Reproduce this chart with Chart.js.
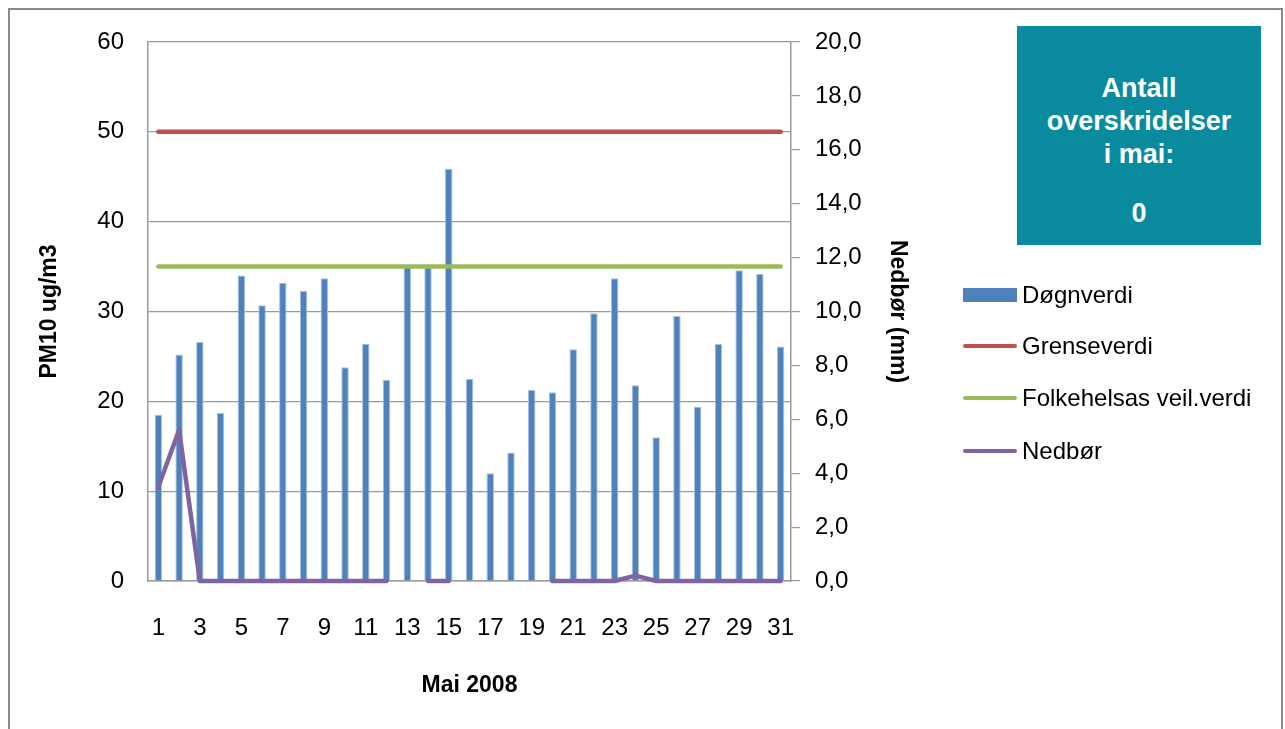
<!DOCTYPE html>
<html lang="no">
<head>
    <meta charset="UTF-8">
    <title>PM10 mai 2008</title>
    <script src="https://cdn.jsdelivr.net/npm/chart.js"></script>
    <style>
        body {
            margin: 0;
            background: #fff;
            font-family: 'Liberation Sans', Arial, sans-serif;
            overflow: hidden;
        }

        /* Grey frame around the whole chart */
        .frame {
            position: absolute;
            left: 8px;
            top: 8px;
            width: 1271px;
            height: 760px;
            border: 2px solid #8a8a8a;
        }

        #chartCanvas {
            position: absolute;
            left: 0;
            top: 0;
        }

        /* Info box, top right */
        .info-box {
            position: absolute;
            left: 1017px;
            top: 26px;
            width: 244px;
            height: 219px;
            background: #0a8a9e;
            color: #fff;
            font-weight: bold;
            font-size: 27px;
            line-height: 33px;
            text-align: center;
            padding-top: 46px;
            box-sizing: border-box;
        }

        .info-box .count {
            margin-top: 26px;
        }

        /* Legend */
        .legend {
            position: absolute;
            left: 963px;
            top: 0;
            font-size: 24px;
            color: #000;
        }

        .legend-item {
            position: absolute;
            left: 0;
            height: 30px;
            display: flex;
            align-items: center;
            white-space: nowrap;
        }

        .legend-item .swatch {
            width: 54px;
            margin-right: 5px;
        }
    </style>
</head>
<body>
    <div class="frame"></div>
    <canvas id="chartCanvas" width="1285" height="729"></canvas>

    <div class="info-box">
        <div>Antall</div>
        <div>overskridelser</div>
        <div>i mai:</div>
        <div class="count">0</div>
    </div>

    <div class="legend" id="legend"></div>

    <script>
        // Days of May 2008
        const days = ['1', '2', '3', '4', '5', '6', '7', '8', '9', '10', '11', '12', '13', '14', '15', '16',
            '17', '18', '19', '20', '21', '22', '23', '24', '25', '26', '27', '28', '29', '30', '31'];

        // PM10 daily values (ug/m3)
        const dognverdi = [18.5, 25.2, 26.6, 18.7, 34.0, 30.7, 33.2, 32.3, 33.7, 23.8, 26.4, 22.4, 35.0, 35.0, 45.9, 22.5,
            12.0, 14.3, 21.3, 21.0, 25.8, 29.8, 33.7, 21.8, 16.0, 29.5, 19.4, 26.4, 34.6, 34.2, 26.1];

        // Limit value and public health guideline
        const grenseverdi = [50, 50, 50, 50, 50, 50, 50, 50, 50, 50, 50, 50, 50, 50, 50, 50,
            50, 50, 50, 50, 50, 50, 50, 50, 50, 50, 50, 50, 50, 50, 50];
        const folkehelsa = [35, 35, 35, 35, 35, 35, 35, 35, 35, 35, 35, 35, 35, 35, 35, 35,
            35, 35, 35, 35, 35, 35, 35, 35, 35, 35, 35, 35, 35, 35, 35];

        // Precipitation (mm), null = missing
        const nedbor = [3.5, 5.6, 0, 0, 0, 0, 0, 0, 0, 0, 0, 0, null, 0, 0, null,
            null, null, null, 0, 0, 0, 0, 0.2, 0, 0, 0, 0, 0, 0, 0];

        const fontFamily = "'Liberation Sans', Arial, sans-serif";
        const gridGrey = '#9a9a9a';

        const ctx = document.getElementById('chartCanvas').getContext('2d');

        const chart = new Chart(ctx, {
            type: 'bar',
            data: {
                labels: days,
                datasets: [
                    {
                        label: 'Døgnverdi',
                        data: dognverdi,
                        backgroundColor: '#4f81bd',
                        borderColor: '#a9c1df',
                        borderWidth: 1,
                        barPercentage: 0.36,
                        categoryPercentage: 1,
                        yAxisID: 'y',
                        order: 5
                    },
                    {
                        type: 'line',
                        label: 'Grenseverdi',
                        data: grenseverdi,
                        borderColor: '#c0504d',
                        backgroundColor: '#c0504d',
                        borderWidth: 4.5,
                        borderCapStyle: 'round',
                        pointRadius: 0,
                        yAxisID: 'y',
                        order: 2
                    },
                    {
                        type: 'line',
                        label: 'Folkehelsas veil.verdi',
                        data: folkehelsa,
                        borderColor: '#9bbb59',
                        backgroundColor: '#9bbb59',
                        borderWidth: 4.5,
                        borderCapStyle: 'round',
                        pointRadius: 0,
                        yAxisID: 'y',
                        order: 1
                    },
                    {
                        type: 'line',
                        label: 'Nedbør',
                        data: nedbor,
                        borderColor: '#8064a2',
                        backgroundColor: '#8064a2',
                        borderWidth: 4.5,
                        borderCapStyle: 'round',
                        borderJoinStyle: 'round',
                        pointRadius: 0,
                        spanGaps: false,
                        clip: 6,
                        yAxisID: 'y1',
                        order: 0
                    }
                ]
            },
            options: {
                responsive: false,
                animation: false,
                devicePixelRatio: 1,
                layout: {
                    padding: { top: 42, left: 0, right: 364, bottom: 0 }
                },
                plugins: {
                    legend: { display: false },
                    tooltip: { enabled: false }
                },
                scales: {
                    x: {
                        grid: { display: false, drawTicks: false },
                        border: { display: true, color: gridGrey, width: 1.5 },
                        ticks: {
                            autoSkip: false,
                            maxRotation: 0,
                            padding: 33,
                            color: '#000',
                            font: { family: fontFamily, size: 24 },
                            callback: (val, idx) => (idx % 2 === 0 ? days[idx] : '')
                        },
                        title: {
                            display: true,
                            text: 'Mai 2008',
                            color: '#000',
                            font: { family: fontFamily, size: 23, weight: 'bold' },
                            padding: { top: 0, bottom: 30 }
                        },
                        afterFit: (scale) => { scale.height = 148; }
                    },
                    y: {
                        position: 'left',
                        min: 0,
                        max: 60,
                        ticks: {
                            stepSize: 10,
                            padding: 24,
                            color: '#000',
                            font: { family: fontFamily, size: 24 }
                        },
                        grid: { color: gridGrey, lineWidth: 1.2, drawTicks: false },
                        border: { display: true, color: gridGrey, width: 1.5 },
                        title: {
                            display: true,
                            text: 'PM10 ug/m3',
                            color: '#000',
                            font: { family: fontFamily, size: 23, weight: 'bold' },
                            padding: { top: 36, bottom: 0 }
                        },
                        afterFit: (scale) => { scale.width = 148; }
                    },
                    y1: {
                        position: 'right',
                        min: 0,
                        max: 20,
                        ticks: {
                            stepSize: 2,
                            padding: 15,
                            color: '#000',
                            font: { family: fontFamily, size: 24 },
                            callback: (v) => v.toFixed(1).replace('.', ',')
                        },
                        grid: { drawOnChartArea: false, drawTicks: true, tickLength: 9, color: gridGrey, lineWidth: 1.2 },
                        border: { display: true, color: gridGrey, width: 1.5 },
                        title: {
                            display: true,
                            text: 'Nedbør (mm)',
                            color: '#000',
                            font: { family: fontFamily, size: 23, weight: 'bold' },
                            padding: { top: 10, bottom: 0 }
                        },
                        afterFit: (scale) => { scale.width = 130; }
                    }
                }
            }
        });

        // Legend built from the chart datasets
        const legendRows = [295, 346, 398, 451];
        const legendEl = document.getElementById('legend');
        chart.data.datasets.forEach((ds, i) => {
            const item = document.createElement('div');
            item.className = 'legend-item';
            item.style.top = (legendRows[i] - 15) + 'px';
            const swatch = document.createElement('div');
            swatch.className = 'swatch';
            if (ds.type === 'line') {
                swatch.style.height = '4px';
                swatch.style.borderRadius = '2px';
                swatch.style.background = ds.borderColor;
            } else {
                swatch.style.height = '14px';
                swatch.style.background = ds.backgroundColor;
            }
            const text = document.createElement('span');
            text.textContent = ds.label;
            item.appendChild(swatch);
            item.appendChild(text);
            legendEl.appendChild(item);
        });
    </script>
</body>
</html>
